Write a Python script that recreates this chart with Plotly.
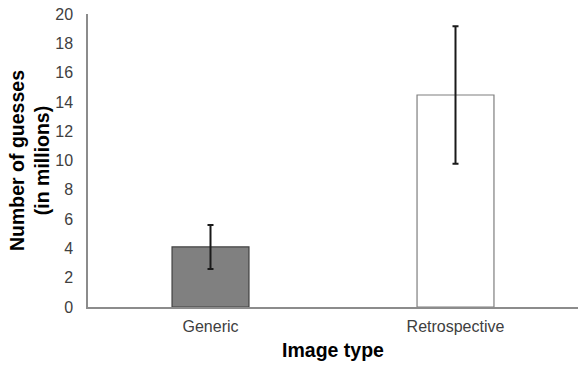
import plotly.graph_objects as go

categories = ["Generic", "Retrospective"]
means = [4.1, 14.47]
errors = [1.5, 4.7]
fill_colors = ["#808080", "#ffffff"]
line_colors = ["#404040", "#7f7f7f"]

fig = go.Figure()
fig.add_trace(go.Bar(
    x=categories,
    y=means,
    marker=dict(color=fill_colors, line=dict(color=line_colors, width=1.2)),
    error_y=dict(type="data", array=errors, visible=True,
                 color="#1a1a1a", thickness=2, width=3),
    width=0.314,
))

fig.update_layout(
    width=579, height=365,
    margin=dict(l=88, r=1, t=14, b=58),
    paper_bgcolor="white", plot_bgcolor="white",
    showlegend=False,
    font=dict(family="Liberation Sans, Arial", color="#404040", size=16),
    xaxis=dict(
        showline=True, linecolor="#8c8c8c", linewidth=1.5,
        ticks="", showgrid=False,
        tickfont=dict(size=16, color="#404040"),
        ticklabelstandoff=4,
        title=dict(text="<b>Image type</b>",
                   font=dict(size=19.5, color="#000000"), standoff=9),
    ),
    yaxis=dict(
        range=[0, 20], dtick=2,
        showline=True, linecolor="#8c8c8c", linewidth=1.5,
        ticks="", showgrid=False, zeroline=False,
        tickfont=dict(size=16, color="#404040"),
        ticklabelstandoff=10,
        title=dict(text="<b>Number of guesses<br>(in millions)</b>",
                   font=dict(size=19.5, color="#000000"), standoff=0),
    ),
)

fig.write_html("out.html")
